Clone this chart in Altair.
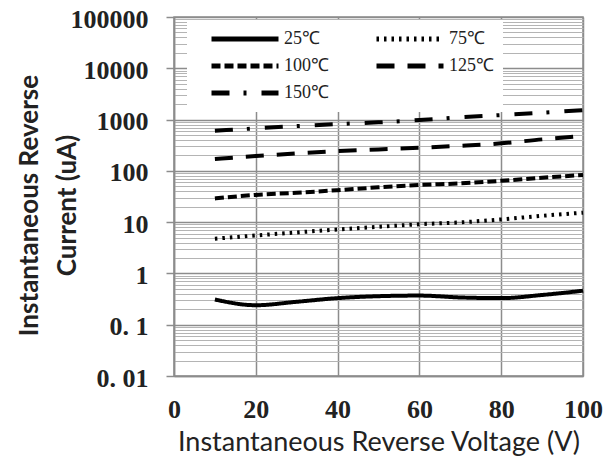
import altair as alt
import pandas as pd

# ---- data ----
voltage = [10, 20, 30, 40, 50, 60, 70, 80, 90, 100]
i_25 = [0.31, 0.24, 0.28, 0.33, 0.36, 0.37, 0.34, 0.33, 0.38, 0.46]
i_75 = [4.75, 5.5, 6.3, 7.2, 8.1, 9.1, 9.9, 11.3, 13.3, 15.3]
i_100 = [29, 34, 37.4, 42, 47.7, 53, 57, 64, 73.4, 83]
i_125 = [170, 194, 219, 243, 262, 282, 308, 344, 411, 477]
i_150 = [605, 674, 747, 817, 882, 978, 1104, 1224, 1358, 1531]

temps = ["25℃", "75℃", "100℃", "125℃", "150℃"]
series = [i_25, i_75, i_100, i_125, i_150]
dashes = [[1, 0], [2.5, 5], [9, 4], [18, 13], [18, 14, 3, 15]]
# legend fills column by column: 25/100/150 in the first, 75/125 in the second
legend_order = ["25℃", "100℃", "150℃", "75℃", "125℃"]

decades = [0.01, 0.1, 1, 10, 100, 1000, 10000, 100000]
tick_labels = ["0. 01", "0. 1", "1", "10", "100", "1000", "10000", "100000"]
x_ticks = [0, 20, 40, 60, 80, 100]

rows = []
for t, vals in zip(temps, series):
    for v, c in zip(voltage, vals):
        rows.append({"V": v, "I": c, "T": t})
df = pd.DataFrame(rows)

dash_of = dict(zip(temps, dashes))
legend_dashes = [dash_of[t] for t in legend_order]

y_values = []
for d in decades[:-1]:
    for m in range(1, 10):
        y_values.append(round(m * d, 6))
y_values.append(decades[-1])

label_expr = ""
for d, lab in zip(decades, tick_labels):
    label_expr += f"datum.value == {d} ? '{lab}' : "
label_expr += "''"
major_test = "abs(log(datum.value)/LN10 - round(log(datum.value)/LN10)) < 0.000001"

lines = alt.Chart(df).mark_line(strokeWidth=4, strokeCap="butt", color="black", interpolate="monotone").encode(
    x=alt.X("V:Q", scale=alt.Scale(domain=[0, 100], nice=False),
            axis=alt.Axis(values=x_ticks, title="Instantaneous Reverse Voltage (V)",
                          ticks=False, labelPadding=20,
                          labelFont="Liberation Serif", labelFontSize=26, labelFontWeight="bold",
                          labelColor="#222", labelFlush=False,
                          titleFont="Lato", titleFontSize=27, titleFontWeight="normal",
                          titleColor="#222", titleBaseline="alphabetic", titleY=74,
                          grid=True, gridColor="#8c8c8c", gridWidth=1.5,
                          domainColor="#8c8c8c", domainWidth=1.5)),
    y=alt.Y("I:Q", scale=alt.Scale(type="log", domain=[0.01, 100000], nice=False),
            axis=alt.Axis(values=y_values, labelExpr=label_expr,
                          title=["Instantaneous Reverse", "Current (uA)"],
                          tickSize=8, tickColor="#8c8c8c", tickWidth=1.5,
                          tickOpacity={"condition": {"test": major_test, "value": 1}, "value": 0},
                          labelPadding=18, labelOffset=2,
                          labelFont="Liberation Serif", labelFontSize=26, labelFontWeight="bold",
                          labelColor="#222",
                          titleFont="Lato", titleFontSize=26, titleFontWeight="bold",
                          titleColor="#222", titleAngle=270, titleAlign="center",
                          titleBaseline="alphabetic", titleX=-137, titleY=188,
                          titleLineHeight=38,
                          grid=True,
                          gridColor={"condition": {"test": major_test, "value": "#8c8c8c"}, "value": "#b4b4b4"},
                          gridWidth={"condition": {"test": major_test, "value": 1.5}, "value": 1},
                          domainColor="#8c8c8c", domainWidth=1.5)),
    strokeDash=alt.StrokeDash("T:N", scale=alt.Scale(domain=legend_order, range=legend_dashes),
                              legend=alt.Legend(title=None, orient="none", legendX=13, legendY=3,
                                                columns=2, columnPadding=32, rowPadding=7,
                                                padding=9, fillColor="white",
                                                symbolType="stroke", symbolSize=4489,
                                                symbolStrokeWidth=5, symbolStrokeColor="black",
                                                symbolOffset=13, clipHeight=20,
                                                labelOffset=3,
                                                labelFont="Liberation Serif", labelFontSize=18,
                                                labelColor="#222")),
)

chart = lines.properties(
    width=409, height=359,
    autosize=alt.AutoSizeParams(type="none"),
    padding={"left": 166, "top": 9, "right": 25, "bottom": 82},
).configure_view(stroke="#8c8c8c", strokeWidth=1.5)

chart.save("out.html", embed_options={"renderer": "svg", "actions": False})
